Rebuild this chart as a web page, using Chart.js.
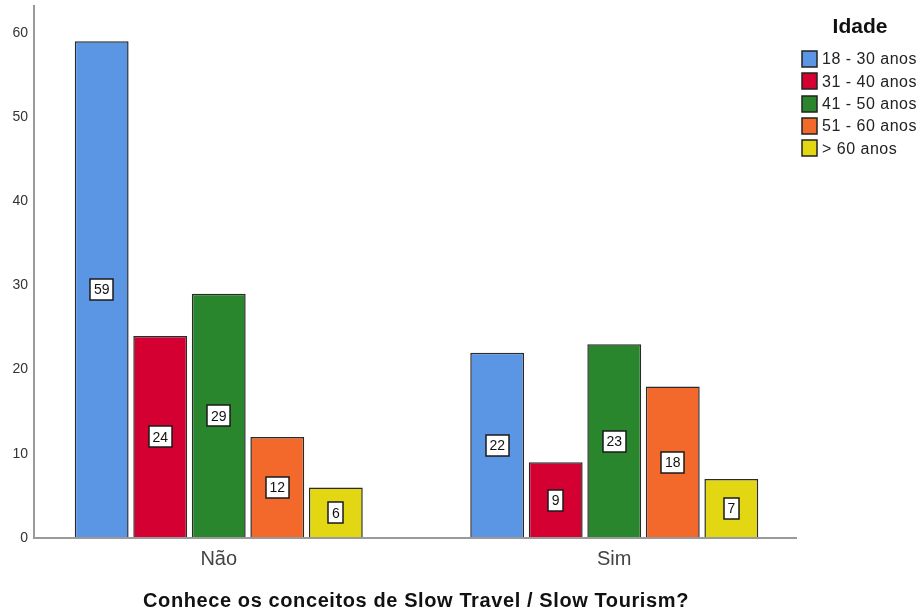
<!DOCTYPE html>
<html>
<head>
<meta charset="utf-8">
<script src="https://cdn.jsdelivr.net/npm/chart.js@4.4.0/dist/chart.umd.min.js"></script>
<style>
  html, body { margin: 0; padding: 0; background: #fff; }
  #wrap { width: 919px; height: 614px; position: relative; }
</style>
</head>
<body>
<div id="wrap"><canvas id="chart"></canvas></div>
<script>
// data
const categories = ['Não', 'Sim'];
const ageGroups = ['18 - 30 anos', '31 - 40 anos', '41 - 50 anos', '51 - 60 anos', '> 60 anos'];
const age18to30 = [59, 22];
const age31to40 = [24, 9];
const age41to50 = [29, 23];
const age51to60 = [12, 18];
const ageOver60 = [6, 7];
const yTicks = [0, 10, 20, 30, 40, 50, 60];

const colors = ['#5b96e4', '#d50032', '#2a862d', '#f2692b', '#e3d714'];
const seriesValues = [age18to30, age31to40, age41to50, age51to60, ageOver60];

const axisTitle = 'Conhece os conceitos de Slow Travel / Slow Tourism?';
const legendTitle = 'Idade';

// axis lines, tick labels, value boxes, legend
const decorations = {
    id: 'decorations',
    afterDatasetsDraw(chart) {
        const c = chart.ctx;
        const y = chart.scales.y;
        const x = chart.scales.x;
        const axisX = 34;
        const axisRight = 797;
        const zeroY = y.getPixelForValue(0);

        c.save();
        // value boxes
        c.font = '14px "Liberation Sans", Arial, sans-serif';
        c.textAlign = 'center';
        c.textBaseline = 'middle';
        chart.data.datasets.forEach((ds, di) => {
            chart.getDatasetMeta(di).data.forEach((bar, i) => {
                const v = ds.data[i];
                const cy = (bar.y + bar.base) / 2;
                const txt = String(v);
                const w = Math.round(c.measureText(txt).width + 7);
                const h = 21;
                const bx = Math.round(bar.x - w / 2);
                const by = Math.round(cy - h / 2);
                c.fillStyle = '#fff';
                c.fillRect(bx, by, w, h);
                c.strokeStyle = '#1a1a1a';
                c.lineWidth = 1.5;
                c.strokeRect(bx, by, w, h);
                c.fillStyle = '#111';
                c.fillText(txt, bar.x, cy + 1);
            });
        });

        // axes
        c.strokeStyle = '#9a9a9a';
        c.lineWidth = 2;
        c.beginPath();
        c.moveTo(axisX, 5);
        c.lineTo(axisX, zeroY);
        c.lineTo(axisRight, zeroY);
        c.stroke();

        // y tick labels
        c.fillStyle = '#333';
        c.font = '14px "Liberation Sans", Arial, sans-serif';
        c.textAlign = 'right';
        yTicks.forEach(t => {
            c.fillText(String(t), 28, y.getPixelForValue(t));
        });

        // category labels
        c.fillStyle = '#444';
        c.font = '20px "Liberation Sans", Arial, sans-serif';
        c.textAlign = 'center';
        categories.forEach((cat, i) => {
            c.fillText(cat, x.getPixelForValue(i), 559);
        });

        // axis title
        c.fillStyle = '#111';
        c.font = 'bold 20px "Liberation Sans", Arial, sans-serif';
        c.letterSpacing = '0.6px';
        c.fillText(axisTitle, 416, 601);

        // legend
        c.letterSpacing = '0px';
        c.font = 'bold 21px "Liberation Sans", Arial, sans-serif';
        c.fillText(legendTitle, 860, 27);
        c.font = '16px "Liberation Sans", Arial, sans-serif';
        c.letterSpacing = '0.5px';
        c.textAlign = 'left';
        ageGroups.forEach((g, i) => {
            const ly = 59 + i * 22.3;
            c.fillStyle = colors[i];
            c.fillRect(802, Math.round(ly - 8), 15, 16);
            c.strokeStyle = '#222';
            c.lineWidth = 1.5;
            c.strokeRect(802, Math.round(ly - 8), 15, 16);
            c.fillStyle = '#222';
            c.fillText(g, 822, ly + 1);
        });
        c.restore();
    }
};

const ctx = document.getElementById('chart').getContext('2d');
const chart = new Chart(ctx, {
    type: 'bar',
    data: {
        labels: categories,
        datasets: ageGroups.map((g, i) => ({
            label: g,
            data: seriesValues[i],
            backgroundColor: colors[i],
            borderColor: '#2a2a2a',
            borderWidth: 1.5,
            categoryPercentage: 0.74,
            barPercentage: 0.92
        }))
    },
    options: {
        responsive: true,
        maintainAspectRatio: false,
        animation: false,
        layout: { padding: { left: 21, right: 107, top: 5, bottom: 76 } },
        plugins: {
            legend: { display: false },
            tooltip: { enabled: false }
        },
        scales: {
            x: { display: false },
            y: { display: false, min: 0, max: 63.3 }
        }
    },
    plugins: [decorations]
});
</script>
</body>
</html>
